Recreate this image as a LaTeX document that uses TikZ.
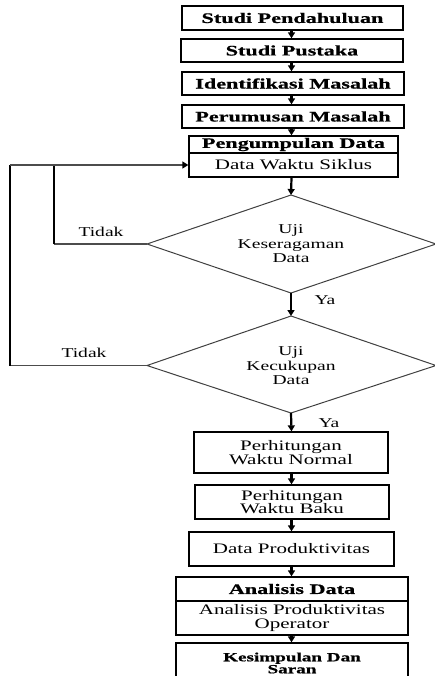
\documentclass[tikz,border=0pt]{standalone}
\usepackage{fontspec}
\setmainfont{Liberation Serif}[FakeStretch=1.45, BoldFeatures={FakeStretch=1.53, FakeBold=0.8}]
\usetikzlibrary{arrows.meta}
\tikzset{
  box/.style={draw=black, line width=1.3bp, inner sep=0pt, align=center,
    font=\fontsize{14.5bp}{13.5bp}\selectfont},
  bbox/.style={box, font=\fontsize{14.5bp}{13.5bp}\selectfont\bfseries},
  dtext/.style={inner sep=0pt, align=center, font=\fontsize{13.5bp}{14.5bp}\selectfont},
  dline/.style={draw=black!75, line width=1bp, line join=miter},
  arr/.style={line width=2.2bp, -{Triangle[length=6bp,width=7bp]}},
  thk/.style={line width=2.4bp},
  thn/.style={draw=black!70, line width=1.4bp},
  harr/.style={thn, -{Triangle[length=6bp,width=7bp,fill=black,color=black]}},
  lbl/.style={inner sep=0pt, font=\fontsize{13.5bp}{14bp}\selectfont}
}
\begin{document}
\begin{tikzpicture}[x=1bp,y=-1bp]
\useasboundingbox (0,0) rectangle (435,676);
\begin{scope}
\clip (0,0) rectangle (435,676);
\node[bbox, minimum width=221bp, minimum height=24bp] (b1) at (292.5,18) {Studi Pendahuluan};
\node[bbox, minimum width=222bp, minimum height=23bp] (b2) at (292,50.5) {Studi Pustaka};
\node[bbox, minimum width=222bp, minimum height=23bp] (b3) at (293,83.5) {Identifikasi Masalah};
\node[bbox, minimum width=222bp, minimum height=23bp] (b4) at (293,116.5) {Perumusan Masalah};
\node[bbox, minimum width=209bp, minimum height=17bp] (b5a) at (293.5,144.5) {Pengumpulan Data};
\node[box, minimum width=209bp, minimum height=24bp] (b5b) at (293.5,165) {Data Waktu Siklus};

% decision 1
\coordinate (d1t) at (291,195);
\coordinate (d1r) at (436,244);
\coordinate (d1b) at (291,293);
\coordinate (d1l) at (147,244);
\draw[dline] (d1t) -- (d1r) -- (d1b) -- (d1l) -- cycle;
\node[dtext] (d1) at (291,244) {Uji\\Keseragaman\\Data};

% decision 2
\coordinate (d2t) at (291,316);
\coordinate (d2r) at (436,365.5);
\coordinate (d2b) at (291,413);
\coordinate (d2l) at (147,365.5);
\draw[dline] (d2t) -- (d2r) -- (d2b) -- (d2l) -- cycle;
\node[dtext] (d2) at (291,366) {Uji\\Kecukupan\\Data};

\node[box, minimum width=194bp, minimum height=41bp] (b6) at (291,452.5) {Perhitungan\\Waktu Normal};
\node[box, minimum width=194bp, minimum height=34bp] (b7) at (292,502) {Perhitungan\\Waktu Baku};
\node[box, minimum width=205bp, minimum height=34bp] (b8) at (291.5,549) {Data Produktivitas};
\node[bbox, minimum width=232bp, minimum height=24bp] (b9a) at (292,589) {Analisis Data};
\node[box, minimum width=232bp, minimum height=34bp] (b9b) at (292,618) {Analisis Produktivitas\\Operator};
\node[bbox, minimum width=232bp, minimum height=40bp, font=\fontsize{12.5bp}{12bp}\selectfont\bfseries] (b10) at (292,663) {Kesimpulan Dan\\Saran};
\end{scope}

\coordinate (ax) at (291.5,0);
\draw[arr] (b1.south -| ax) -- (b2.north -| ax);
\draw[arr] (b2.south -| ax) -- (b3.north -| ax);
\draw[arr] (b3.south -| ax) -- (b4.north -| ax);
\draw[arr] (b4.south -| ax) -- (b5a.north -| ax);
\draw[arr] (b5b.south -| ax) -- (d1t);
\draw[arr] (d1b) -- (d2t);
\draw[arr] (d2b) -- (b6.north -| ax);
\draw[arr] (b6.south -| ax) -- (b7.north -| ax);
\draw[arr] (b7.south -| ax) -- (b8.north -| ax);
\draw[arr] (b8.south -| ax) -- (b9a.north -| ax);
\draw[arr] (b9b.south -| ax) -- (b10.north -| ax);

\coordinate (i1) at (54,244);
\coordinate (i2) at (54,165);
\coordinate (o1) at (10,165);
\coordinate (o2) at (10,365.5);
\draw[thn] (d1l) -- (i1);
\draw[thn] (d2l) -- (o2);
\draw[thk] (i1) -- (i2);
\draw[thk] (o2) -- (o1);
\draw[harr] (o1) -- (b5b.west);

\node[lbl] (t1) at (101,232) {Tidak};
\node[lbl] (t2) at (84,353) {Tidak};
\node[lbl] (y1) at (325,300) {Ya};
\node[lbl] (y2) at (329,423) {Ya};
\end{tikzpicture}
\end{document}
